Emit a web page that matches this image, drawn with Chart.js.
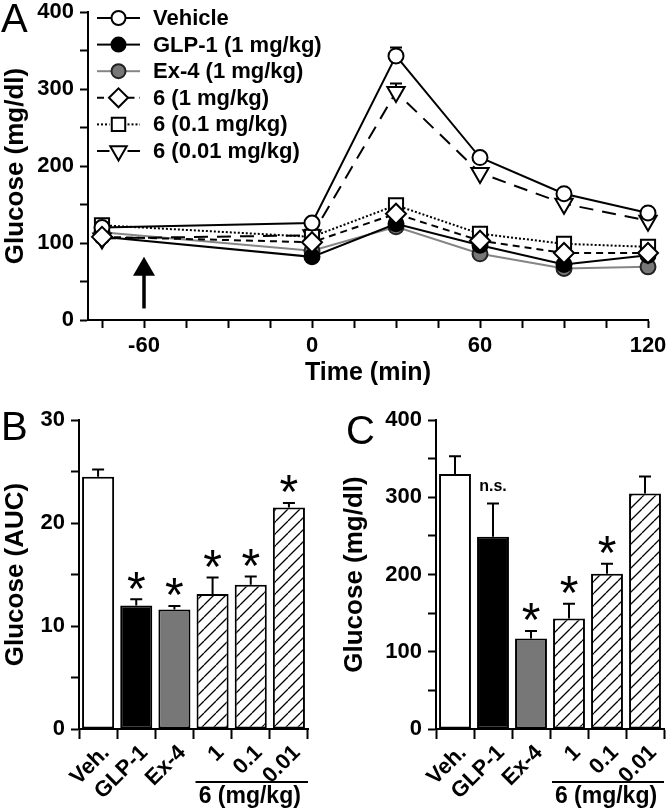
<!DOCTYPE html>
<html><head><meta charset="utf-8">
<script src="https://cdn.jsdelivr.net/npm/chart.js@4.4.1/dist/chart.umd.min.js"></script>
<style>
html,body{margin:0;padding:0;background:#fff;width:666px;height:809px;overflow:hidden}
canvas{position:absolute;display:block}
#cA{left:0;top:0;width:666px;height:392px}
#cB{left:0;top:365px;width:330px;height:444px}
#cC{left:330px;top:365px;width:336px;height:444px}
</style></head><body>
<canvas id="cA" width="666" height="392"></canvas>
<canvas id="cB" width="330" height="444"></canvas>
<canvas id="cC" width="336" height="444"></canvas>
<script>
// ---------- Panel A data ----------
const timePoints = [-75, 0, 30, 60, 90, 120];
const timeTicks = [-75, -60, -45, -30, -15, 0, 15, 30, 45, 60, 75, 90, 105, 120];
const glucoseTicksA = [0, 50, 100, 150, 200, 250, 300, 350, 400];
const seriesLabels = ['Vehicle', 'GLP-1 (1 mg/kg)', 'Ex-4 (1 mg/kg)', '6 (1 mg/kg)', '6 (0.1 mg/kg)', '6 (0.01 mg/kg)'];
const vehicle   = [120, 126, 343, 211, 164, 139];
const glp1      = [108, 82, 125, 97, 72, 84];
const ex4       = [114, 90, 121, 86, 67, 69];
const cmp6_1    = [108, 101, 138, 103, 87, 87];
const cmp6_01   = [123, 108, 149, 112, 99, 95];
const cmp6_001  = [106, 110, 296, 191, 151, 129];
const vehicleErr  = [3, 4, 11, 5, 4, 4];
const cmp6_001Err = [3, 5, 11, 6, 5, 5];
const arrowTime = -60, arrowFrom = 15, arrowTo = 82;

// ---------- Panel B / C data ----------
const barLabels = ['Veh.', 'GLP-1', 'Ex-4', '1', '0.1', '0.01'];
const groupLabel = '6 (mg/kg)';
const aucMeans  = [24.5, 12.0, 11.6, 13.1, 14.0, 21.5];
const aucErrors = [0.7, 0.6, 0.35, 1.6, 0.8, 0.45];
const aucMarks  = ['', '*', '*', '*', '*', '*'];
const aucTicks  = [0, 5, 10, 15, 20, 25, 30];
const peakMeans  = [330, 249, 117, 143, 201, 305];
const peakErrors = [23, 43, 10, 19, 13, 22];
const peakMarks  = ['', 'n.s.', '*', '*', '*', ''];
const peakTicks  = [0, 50, 100, 150, 200, 250, 300, 350, 400];

const FONT = "'Liberation Sans', Arial, Helvetica, sans-serif";
Chart.defaults.font.family = FONT;
Chart.defaults.color = '#000';

function hatchPattern() {
  const s = 12, c = document.createElement('canvas');
  c.width = s; c.height = s;
  const g = c.getContext('2d');
  g.fillStyle = '#fff'; g.fillRect(0, 0, s, s);
  g.strokeStyle = '#000'; g.lineWidth = 1.3;
  g.beginPath();
  for (const k of [-s, 0, s]) { g.moveTo(k, s); g.lineTo(k + s, 0); }
  g.stroke();
  return g.createPattern(c, 'repeat');
}
const HATCH = hatchPattern();
const barFills = ['#ffffff', '#000000', '#777777', HATCH, HATCH, HATCH];

function drawMarker(ctx, style, r, rot, x, y) {
  ctx.beginPath();
  if (style === 'circle') ctx.arc(x, y, r, 0, Math.PI * 2);
  else if (style === 'rectRot') { ctx.moveTo(x - r, y); ctx.lineTo(x, y - r); ctx.lineTo(x + r, y); ctx.lineTo(x, y + r); ctx.closePath(); }
  else if (style === 'rect') { const h = r * Math.SQRT1_2; ctx.rect(x - h, y - h, 2 * h, 2 * h); }
  else if (style === 'triangle') {
    let a = (rot || 0) * Math.PI / 180;
    ctx.moveTo(x + Math.sin(a) * r, y - Math.cos(a) * r);
    a += 2 * Math.PI / 3; ctx.lineTo(x + Math.sin(a) * r, y - Math.cos(a) * r);
    a += 2 * Math.PI / 3; ctx.lineTo(x + Math.sin(a) * r, y - Math.cos(a) * r);
    ctx.closePath();
  }
  ctx.fill(); ctx.stroke();
}

function panelLetter(ctx, letter, x, y) {
  ctx.save(); ctx.fillStyle = '#000'; ctx.font = '40px ' + FONT;
  ctx.textAlign = 'left'; ctx.textBaseline = 'alphabetic';
  ctx.fillText(letter, x, y); ctx.restore();
}

const axisCommon = {
  grid: { drawOnChartArea: false, drawTicks: true, tickLength: 8, tickWidth: 2, tickColor: '#000', color: '#000' },
  border: { display: true, color: '#000', width: 2 }
};

// ---------- Panel A ----------
function lineDs(label, vals, o) {
  return Object.assign({
    label, data: timePoints.map((t, i) => ({ x: t, y: vals[i] })),
    borderColor: '#000', borderWidth: 2, pointBorderColor: '#000', pointBorderWidth: 2,
    pointBackgroundColor: '#fff', pointHoverRadius: 0, tension: 0, fill: false, clip: false
  }, o);
}
const dsA = [
  lineDs(seriesLabels[0], vehicle,  { pointStyle: 'circle', pointRadius: 7.5, order: 1, errs: vehicleErr }),
  lineDs(seriesLabels[1], glp1,     { pointStyle: 'circle', pointRadius: 7.5, pointBackgroundColor: '#000', order: 4 }),
  lineDs(seriesLabels[2], ex4,      { pointStyle: 'circle', pointRadius: 7.5, borderColor: '#858585', pointBackgroundColor: '#777', pointBorderColor: '#222', order: 5 }),
  lineDs(seriesLabels[3], cmp6_1,   { pointStyle: 'rectRot', pointRadius: 10, borderDash: [7, 5], order: 0 }),
  lineDs(seriesLabels[4], cmp6_01,  { pointStyle: 'rect', pointRadius: 10, borderDash: [2, 2], order: 2 }),
  lineDs(seriesLabels[5], cmp6_001, { pointStyle: 'triangle', pointRadius: 10, pointRotation: 180, borderDash: [14, 9], order: 3, errs: cmp6_001Err })
];

const panelAPlugin = {
  id: 'panelA',
  beforeDatasetsDraw(chart) {
    const { ctx, scales: { x, y } } = chart;
    ctx.save(); ctx.strokeStyle = '#000'; ctx.lineWidth = 2; ctx.setLineDash([]);
    chart.data.datasets.forEach(ds => {
      if (!ds.errs) return;
      ds.data.forEach((p, i) => {
        const px = x.getPixelForValue(p.x), py = y.getPixelForValue(p.y), pe = y.getPixelForValue(p.y + ds.errs[i]);
        ctx.beginPath(); ctx.moveTo(px, py); ctx.lineTo(px, pe);
        ctx.moveTo(px - 6, pe); ctx.lineTo(px + 6, pe); ctx.stroke();
      });
    });
    // arrow
    const ax = x.getPixelForValue(arrowTime), y0 = y.getPixelForValue(arrowFrom), y1 = y.getPixelForValue(arrowTo);
    ctx.lineWidth = 3.5; ctx.beginPath(); ctx.moveTo(ax, y0); ctx.lineTo(ax, y1 + 12); ctx.stroke();
    ctx.fillStyle = '#000'; ctx.beginPath();
    ctx.moveTo(ax, y1); ctx.lineTo(ax - 11, y1 + 19); ctx.lineTo(ax + 11, y1 + 19); ctx.closePath(); ctx.fill();
    ctx.restore();
  },
  afterDraw(chart) {
    const { ctx } = chart;
    ctx.save();
    const x0 = 97, x1 = 140, xm = 118.5, tx = 153, yStart = 18, dy = 26.6;
    chart.data.datasets.forEach((ds, i) => {
      const yy = yStart + i * dy;
      ctx.strokeStyle = ds.borderColor; ctx.lineWidth = 2;
      ctx.setLineDash(ds.borderDash || []);
      const r = ds.pointRadius;
      ctx.beginPath(); ctx.moveTo(x0, yy); ctx.lineTo(xm - r + 1, yy); ctx.stroke();
      ctx.beginPath(); ctx.moveTo(xm + r - 1, yy); ctx.lineTo(x1, yy); ctx.stroke();
      ctx.setLineDash([]);
      ctx.fillStyle = ds.pointBackgroundColor; ctx.strokeStyle = ds.pointBorderColor;
      drawMarker(ctx, ds.pointStyle, ds.pointStyle === 'circle' ? 7 : r - 0.5, ds.pointRotation, xm, yy);
      ctx.fillStyle = '#000'; ctx.font = 'bold 22px ' + FONT;
      ctx.textAlign = 'left'; ctx.textBaseline = 'middle';
      ctx.fillText(ds.label, tx, yy + 1);
    });
    ctx.restore();
    panelLetter(ctx, 'A', 1, 32);
  }
};

new Chart(document.getElementById('cA'), {
  type: 'line',
  data: { datasets: dsA },
  options: {
    responsive: false, animation: false, devicePixelRatio: 1,
    layout: { padding: { top: 11, right: 18, left: 0, bottom: 0 } },
    plugins: { legend: { display: false }, tooltip: { enabled: false } },
    scales: {
      x: Object.assign({}, axisCommon, {
        type: 'linear', min: -80, max: 120,
        afterBuildTicks: s => { s.ticks = timeTicks.map(v => ({ value: v })); },
        ticks: { callback: v => (v % 60 === 0 ? String(v) : ''), font: { size: 22, weight: 'bold' }, padding: 5, autoSkip: false, maxRotation: 0 },
        title: { display: true, text: 'Time (min)', font: { size: 25, weight: 'bold' }, padding: { top: 0, bottom: 4 } },
        afterFit: s => { s.height = 72; s.paddingLeft = 0; s.paddingRight = 0; }
      }),
      y: Object.assign({}, axisCommon, {
        min: 0, max: 400,
        afterBuildTicks: s => { s.ticks = glucoseTicksA.map(v => ({ value: v })); },
        ticks: { callback: v => (v % 100 === 0 ? String(v) : ''), font: { size: 22, weight: 'bold' }, padding: 6 },
        title: { display: true, text: 'Glucose (mg/dl)', font: { size: 26, weight: 'bold' }, padding: { top: 0, bottom: 0 } },
        afterFit: s => { s.width = 88; s.paddingTop = 0; s.paddingBottom = 0; }
      })
    }
  },
  plugins: [panelAPlugin]
});

// ---------- Panels B / C ----------
const barDecor = {
  id: 'barDecor',
  afterDatasetsDraw(chart, args, opts) {
    const { ctx, scales: { x, y } } = chart;
    const meta = chart.getDatasetMeta(0), vals = chart.data.datasets[0].data;
    ctx.save(); ctx.strokeStyle = '#000'; ctx.fillStyle = '#000'; ctx.lineWidth = 2;
    meta.data.forEach((bar, i) => {
      const yTop = y.getPixelForValue(vals[i]), yErr = y.getPixelForValue(vals[i] + opts.errors[i]);
      ctx.beginPath(); ctx.moveTo(bar.x, yTop); ctx.lineTo(bar.x, yErr);
      ctx.moveTo(bar.x - 6, yErr); ctx.lineTo(bar.x + 6, yErr); ctx.stroke();
      const m = opts.marks[i];
      if (m === '*') {
        ctx.font = '48px ' + FONT; ctx.textAlign = 'center'; ctx.textBaseline = 'alphabetic';
        const mt = ctx.measureText('*');
        const cy = yErr - 19;
        ctx.fillText('*', bar.x, cy + (mt.actualBoundingBoxAscent - mt.actualBoundingBoxDescent) / 2);
      } else if (m) {
        ctx.font = 'bold 16px ' + FONT; ctx.textAlign = 'center'; ctx.textBaseline = 'middle';
        ctx.fillText(m, bar.x, yErr - 17);
      }
    });
    // group bracket under compound 6 bars
    const cw = x.getPixelForValue(1) - x.getPixelForValue(0);
    const gx0 = x.getPixelForValue(3) - cw / 2 + 2, gx1 = x.getPixelForValue(5) + cw / 2;
    const base = y.getPixelForValue(0);
    ctx.lineWidth = 2; ctx.beginPath(); ctx.moveTo(gx0, base + 53); ctx.lineTo(gx1, base + 53); ctx.stroke();
    ctx.font = 'bold 23px ' + FONT; ctx.textAlign = 'center'; ctx.textBaseline = 'middle';
    ctx.fillText(opts.group, (gx0 + gx1) / 2 - 2, base + 68);
    ctx.restore();
    panelLetter(ctx, opts.letter, opts.lx, opts.ly);
  }
};

function barChart(id, means, errors, marks, ticks, tickStep, max, title, yWidth, titlePad, padRight, letter, lx, ly) {
  return new Chart(document.getElementById(id), {
    type: 'bar',
    data: {
      labels: barLabels,
      datasets: [{ data: means, backgroundColor: barFills, borderColor: '#000', borderWidth: 2, borderSkipped: false,
                   barPercentage: 0.84, categoryPercentage: 1.0 }]
    },
    options: {
      responsive: false, animation: false, devicePixelRatio: 1,
      layout: { padding: { top: 55, right: padRight, left: 0, bottom: 0 } },
      plugins: { legend: { display: false }, tooltip: { enabled: false },
                 barDecor: { errors, marks, group: groupLabel, letter, lx, ly } },
      scales: {
        x: Object.assign({}, axisCommon, {
          type: 'category', offset: true,
          grid: Object.assign({}, axisCommon.grid, { offset: true, tickLength: 10 }),
          ticks: { font: { size: 22, weight: 'bold' }, autoSkip: false, maxRotation: 45, minRotation: 45, padding: 1, labelOffset: 8 },
          afterFit: s => { s.height = 80; s.paddingLeft = 0; s.paddingRight = 0; }
        }),
        y: Object.assign({}, axisCommon, {
          min: 0, max,
          afterBuildTicks: s => { s.ticks = ticks.map(v => ({ value: v })); },
          ticks: { callback: v => (v % tickStep === 0 ? String(v) : ''), font: { size: 22, weight: 'bold' }, padding: 6 },
          title: { display: true, text: title, font: { size: 26, weight: 'bold' }, padding: { top: titlePad, bottom: 0 } },
          afterFit: s => { s.width = yWidth; s.paddingTop = 0; s.paddingBottom = 0; }
        })
      }
    },
    plugins: [barDecor]
  });
}

barChart('cB', aucMeans, aucErrors, aucMarks, aucTicks, 10, 30, 'Glucose (AUC)', 79, 0, 22, 'B', 1, 75);
barChart('cC', peakMeans, peakErrors, peakMarks, peakTicks, 100, 400, 'Glucose (mg/dl)', 106, 9, 2, 'C', 16, 79);
</script>
</body></html>
